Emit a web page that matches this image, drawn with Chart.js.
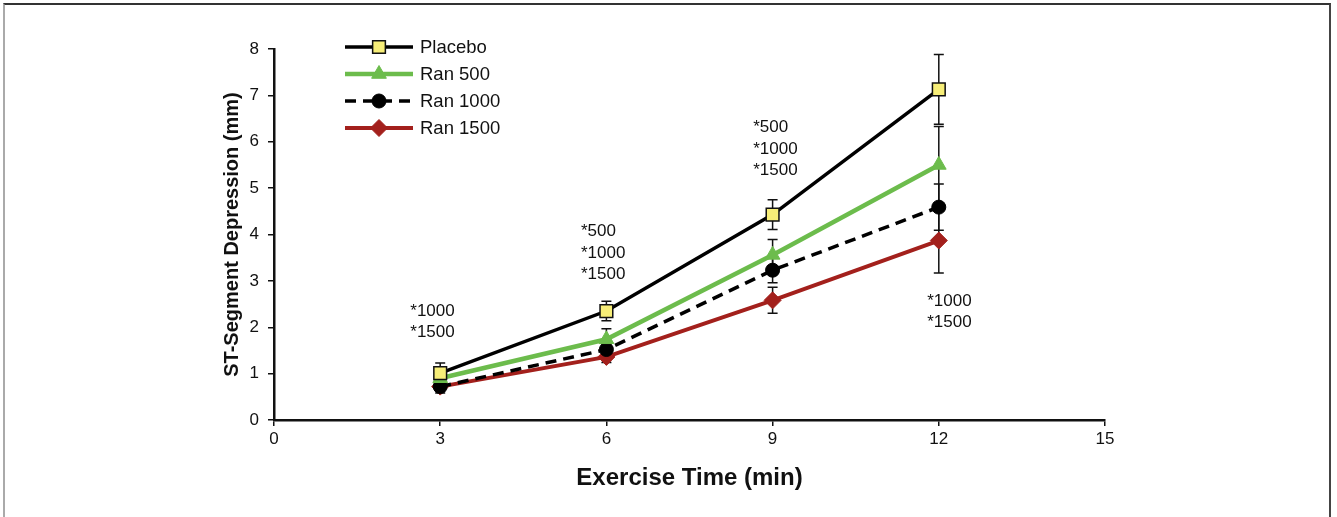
<!DOCTYPE html>
<html><head><meta charset="utf-8">
<script src="https://cdn.jsdelivr.net/npm/chart.js@4.4.0/dist/chart.umd.min.js"></script>
<style>
html,body{margin:0;padding:0;background:#fff;}
#wrap{position:absolute;left:0;top:0;width:1337px;height:517px;overflow:hidden;}
#frame{position:absolute;left:3px;top:3px;width:1328px;height:530px;border-top:2px solid #333;border-left:2px solid #aaa;border-right:2px solid #444;box-sizing:border-box;}
canvas{position:absolute;left:0;top:0;}
</style></head><body>
<div id="wrap"><div id="frame"></div><canvas id="c" width="1337" height="517"></canvas></div>
<script>
// ---- data ----
const exerciseTimes = [3, 6, 9, 12];
const seriesNames = ['Placebo', 'Ran 500', 'Ran 1000', 'Ran 1500'];
const placebo = [1.01, 2.35, 4.43, 7.13];
const ran500  = [0.90, 1.74, 3.56, 5.50];
const ran1000 = [0.72, 1.52, 3.23, 4.59];
const ran1500 = [0.72, 1.36, 2.58, 3.87];
const placeboErr = [0.22, 0.21, 0.32, 0.75];
const ran500Err  = [0.10, 0.23, 0.33, 0.83];
const ran1000Err = [0.14, 0.12, 0.27, 0.50];
const ran1500Err = [0.10, 0.12, 0.28, 0.70];
const xTicks = [0, 3, 6, 9, 12, 15];
const yTicks = [0, 1, 2, 3, 4, 5, 6, 7, 8];
const xTitle = 'Exercise Time (min)';
const yTitle = 'ST-Segment Depression (mm)';
// significance notes: anchor x/y in data units, lines of text
const noteX = [2.46, 5.54, 8.65, 11.79];
const noteY = [2.35, 4.06, 6.31, 2.57];
const noteLines = [['*1000', '*1500'], ['*500', '*1000', '*1500'], ['*500', '*1000', '*1500'], ['*1000', '*1500']];

const FONT = "'Liberation Sans', Arial, Helvetica, sans-serif";
Chart.defaults.font.family = FONT;
Chart.defaults.color = '#111';

const toPts = arr => exerciseTimes.map((t, i) => ({x: t, y: arr[i]}));
const errs = [placeboErr, ran500Err, ran1000Err, ran1500Err];

const datasets = [
  {label: seriesNames[0], data: toPts(placebo), borderColor: '#000', borderWidth: 3.5,
   pointStyle: 'rect', pointRadius: 9, pointBackgroundColor: '#f7ee78', pointBorderColor: '#111', pointBorderWidth: 1.5},
  {label: seriesNames[1], data: toPts(ran500), borderColor: '#6cbc4c', borderWidth: 4.5,
   pointStyle: 'triangle', pointRadius: 8.5, pointBackgroundColor: '#6cbc4c', pointBorderColor: '#6cbc4c', pointBorderWidth: 1},
  {label: seriesNames[2], data: toPts(ran1000), borderColor: '#000', borderWidth: 3.5, borderDash: [11, 7],
   pointStyle: 'circle', pointRadius: 7, pointBackgroundColor: '#000', pointBorderColor: '#000', pointBorderWidth: 1},
  {label: seriesNames[3], data: toPts(ran1500), borderColor: '#a3201c', borderWidth: 4,
   pointStyle: 'rectRot', pointRadius: 8.5, pointBackgroundColor: '#a3201c', pointBorderColor: '#a3201c', pointBorderWidth: 1}
];
datasets.forEach(d => { d.fill = false; d.tension = 0; d.pointHoverRadius = d.pointRadius; });

const errorBars = {
  id: 'errorBars',
  beforeDatasetsDraw(chart) {
    const ctx = chart.ctx, xs = chart.scales.x, ys = chart.scales.y;
    ctx.save();
    ctx.strokeStyle = '#111'; ctx.lineWidth = 1.5; ctx.setLineDash([]);
    chart.data.datasets.forEach((ds, di) => {
      ds.data.forEach((p, i) => {
        const e = errs[di][i];
        const px = xs.getPixelForValue(p.x);
        const yt = ys.getPixelForValue(p.y + e), yb = ys.getPixelForValue(p.y - e);
        ctx.beginPath();
        ctx.moveTo(px, yt); ctx.lineTo(px, yb);
        ctx.moveTo(px - 5, yt); ctx.lineTo(px + 5, yt);
        ctx.moveTo(px - 5, yb); ctx.lineTo(px + 5, yb);
        ctx.stroke();
      });
    });
    ctx.restore();
  }
};

const notes = {
  id: 'notes',
  afterDatasetsDraw(chart) {
    const ctx = chart.ctx, xs = chart.scales.x, ys = chart.scales.y;
    ctx.save();
    ctx.fillStyle = '#111';
    ctx.font = '17px ' + FONT;
    ctx.textAlign = 'left'; ctx.textBaseline = 'middle';
    noteLines.forEach((lines, g) => {
      const px = xs.getPixelForValue(noteX[g]);
      const py = ys.getPixelForValue(noteY[g]);
      lines.forEach((t, k) => ctx.fillText(t, px, py + k * 21.5));
    });
    ctx.restore();
  }
};

const legendPlugin = {
  id: 'customLegend',
  afterDraw(chart) {
    const ctx = chart.ctx;
    const x0 = 345, x1 = 413, xm = 379, tx = 420, y0 = 47, dy = 27;
    chart.data.datasets.forEach((ds, i) => {
      const y = y0 + i * dy;
      ctx.save();
      ctx.strokeStyle = ds.borderColor; ctx.lineWidth = ds.borderWidth;
      ctx.setLineDash(ds.borderDash || []);
      ctx.beginPath(); ctx.moveTo(x0, y); ctx.lineTo(x1, y); ctx.stroke();
      ctx.setLineDash([]);
      ctx.fillStyle = ds.pointBackgroundColor; ctx.strokeStyle = ds.pointBorderColor;
      ctx.lineWidth = ds.pointBorderWidth;
      Chart.helpers.drawPoint(ctx, {pointStyle: ds.pointStyle, radius: ds.pointRadius, rotation: 0, borderWidth: ds.pointBorderWidth}, xm, y);
      ctx.fillStyle = '#111';
      ctx.font = '18.5px ' + FONT;
      ctx.textAlign = 'left'; ctx.textBaseline = 'middle';
      ctx.fillText(ds.label, tx, y + 1);
      ctx.restore();
    });
  }
};

new Chart(document.getElementById('c'), {
  type: 'line',
  data: {datasets},
  options: {
    responsive: false,
    animation: false,
    events: [],
    layout: {padding: {left: 220, right: 232, top: 49, bottom: 24}},
    plugins: {legend: {display: false}, tooltip: {enabled: false}},
    scales: {
      x: {
        type: 'linear', min: 0, max: 15,
        afterFit: s => { s.height = 73; },
        afterBuildTicks: s => { s.ticks = xTicks.map(v => ({value: v})); },
        ticks: {font: {size: 17}, color: '#111', maxRotation: 0, autoSkip: false, padding: 3},
        grid: {display: true, drawOnChartArea: false, drawTicks: true, tickLength: 6, color: '#111', lineWidth: 1.5},
        border: {display: true, color: '#111', width: 2.5},
        title: {display: true, text: xTitle, font: {size: 24, weight: 'bold'}, color: '#111', padding: 0}
      },
      y: {
        type: 'linear', min: 0, max: 8,
        afterFit: s => { s.width = 54; },
        afterBuildTicks: s => { s.ticks = yTicks.map(v => ({value: v})); },
        ticks: {font: {size: 17}, color: '#111', padding: 9},
        grid: {display: true, drawOnChartArea: false, drawTicks: true, tickLength: 6, color: '#111', lineWidth: 1.5},
        border: {display: true, color: '#111', width: 2.5},
        title: {display: true, text: yTitle, font: {size: 20, weight: 'bold'}, color: '#111', padding: 0}
      }
    }
  },
  plugins: [errorBars, notes, legendPlugin]
});
</script>
</body></html>
